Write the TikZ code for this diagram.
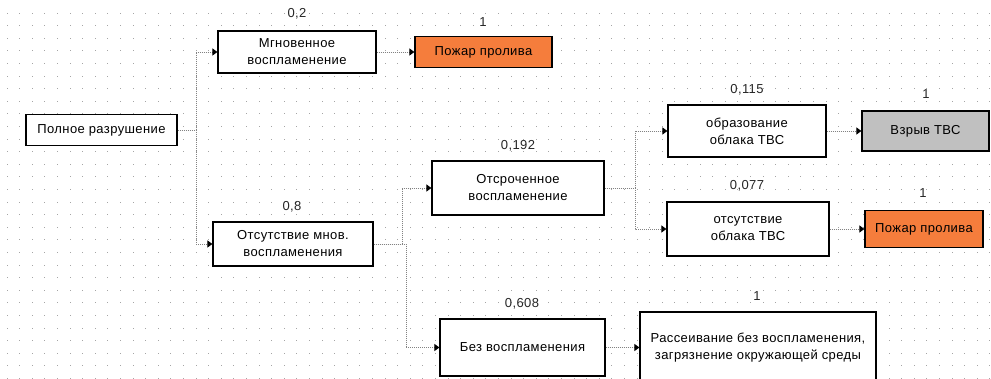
\documentclass[tikz,border=0pt]{standalone}
\usepackage{fontspec}
\setmainfont[LetterSpace=3]{Liberation Sans}
\usetikzlibrary{arrows.meta,calc}
\definecolor{fireor}{RGB}{245,125,60}
\definecolor{boomgr}{RGB}{192,192,192}
\definecolor{griddot}{RGB}{165,165,165}
\definecolor{linegr}{RGB}{130,130,130}
\begin{document}
\begin{tikzpicture}[x=1pt,y=-1pt,
  box/.style={draw=black,line width=1.2pt,fill=white,align=center,inner sep=0pt,
    font=\fontsize{13}{17}\selectfont},
  prob/.style={font=\fontsize{13}{15}\selectfont,text=black!85,inner sep=0pt},
  conn/.style={draw=linegr,line width=0.9pt,dash pattern=on 1pt off 1pt,
    -{Triangle[length=5pt,width=7pt,color=black]}}
]
\useasboundingbox (0,0) rectangle (991,379);
\begin{scope}
\clip (0,0) rectangle (991,379);
\fill[white] (0,0) rectangle (991,379);
\foreach \i in {0,...,78}{
  \foreach \j in {1,...,30}{
    \fill[griddot] (6.5+12.6*\i,12.6*\j) rectangle ++(1,1);
  }
}

% boxes
\node[box,minimum width=151pt,minimum height=31pt] (A) at (101.5,130) {Полное разрушение};
\node[box,minimum width=158pt,minimum height=42pt] (B) at (297,52) {Мгновенное\\воспламенение};
\node[box,fill=fireor,minimum width=137pt,minimum height=31pt] (C) at (483.5,52) {Пожар пролива};
\node[box,minimum width=160pt,minimum height=44pt] (D) at (293,244) {Отсутствие мнов.\\воспламенения};
\node[box,minimum width=172pt,minimum height=54pt] (E) at (518,188) {Отсроченное\\воспламенение};
\node[box,minimum width=158pt,minimum height=52pt] (F) at (747,131) {образование\\облака ТВС};
\node[box,minimum width=162pt,minimum height=54pt] (G) at (748,229) {отсутствие\\облака ТВС};
\node[box,fill=boomgr,minimum width=127pt,minimum height=40pt] (H) at (925.5,131) {Взрыв ТВС};
\node[box,fill=fireor,minimum width=118pt,minimum height=37pt] (I) at (924,229) {Пожар пролива};
\node[box,minimum width=165pt,minimum height=57pt] (J) at (522.5,347.5) {Без воспламенения};
\node[box,minimum width=236pt,minimum height=71pt] (K) at (758,347.5) {Рассеивание без воспламенения,\\загрязнение окружающей среды};

% probabilities
\node[prob] (pB) at (297,14) {0,2};
\node[prob] (pC) at (483,22) {1};
\node[prob] (pD) at (292,207) {0,8};
\node[prob] (pE) at (518,146) {0,192};
\node[prob] (pF) at (747,90) {0,115};
\node[prob] (pG) at (747,186) {0,077};
\node[prob] (pH) at (926,94) {1};
\node[prob] (pI) at (923,193) {1};
\node[prob] (pJ) at (522,304) {0,608};
\node[prob] (pK) at (757,296) {1};

% connectors
\coordinate (jA) at (196,130);
\coordinate (jD1) at (402,244);
\coordinate (jD2) at (406,244);
\coordinate (jE) at (635,188);
\draw[conn] (A.east) -- (jA) |- (B.west);
\draw[conn] (jA) |- (D.west);
\draw[conn] (B.east) -- (C.west);
\draw[conn] (D.east) -- (jD1) |- (E.west);
\draw[conn] (D.east) -- (jD2) |- (J.west);
\draw[conn] (E.east) -- (jE) |- (F.west);
\draw[conn] (jE) |- (G.west);
\draw[conn] (F.east) -- (H.west);
\draw[conn] (G.east) -- (I.west);
\draw[conn] (J.east) -- (K.west);
\end{scope}
\end{tikzpicture}
\end{document}
